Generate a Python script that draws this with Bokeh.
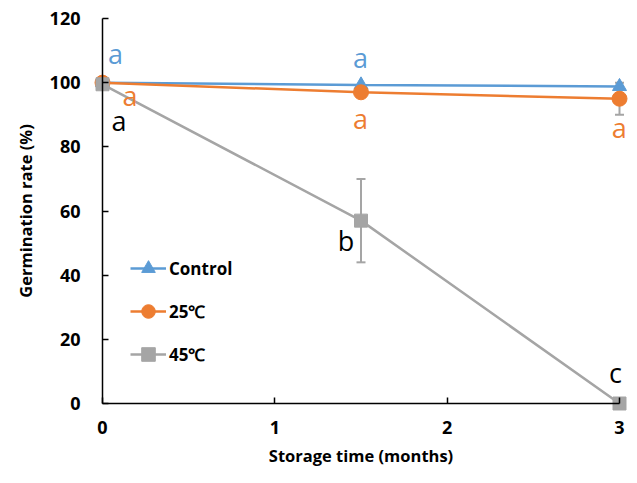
from bokeh.plotting import figure
from bokeh.models import ColumnDataSource, Range1d, FixedTicker, Legend, LegendItem, Whisker, TeeHead
from bokeh.core.properties import value
from bokeh.embed import file_html
from bokeh.resources import INLINE

# ---- data ----
months = [0, 1.5, 3]
control = [100, 99.3, 98.8]
t25 = [100, 97, 95]
t45 = [99.5, 57, 0]
control_err = [0, 0, 0]
t25_err = [0, 0, 5]
t45_err = [0, 13, 0]

# significance letters: x, y, text, colour
letters_x = [0.075, 1.497, 0.16, 0.096, 1.497, 2.998, 1.413, 2.977]
letters_y = [109.2, 108.0, 96.0, 88.2, 88.8, 86.0, 50.8, 9.6]
letters_t = ["a", "a", "a", "a", "a", "a", "b", "c"]
letters_c = ["#5B9BD5", "#5B9BD5", "#ED7D31", "#000000", "#ED7D31", "#ED7D31", "#000000", "#000000"]

x_ticks = [0, 1, 2, 3]
y_ticks = [0, 20, 40, 60, 80, 100, 120]

BLUE = "#5B9BD5"
ORANGE = "#ED7D31"
GRAY = "#A5A5A5"
FONT = "Open Sans"

W, H = 629, 467
PX_X = 517 / 3.0      # pixels per month
PX_Y = 385 / 120.0    # pixels per percent
X0, Y0 = 102, 403     # page position of origin

p = figure(width=W, height=H, output_backend="svg", toolbar_location=None,
           x_range=Range1d(-X0 / PX_X, (W - X0) / PX_X),
           y_range=Range1d(-(H - Y0) / PX_Y, Y0 / PX_Y),
           min_border_left=0, min_border_right=0, min_border_top=0, min_border_bottom=0)
p.outline_line_color = None
p.xgrid.visible = False
p.ygrid.visible = False

for ax in (p.xaxis[0], p.yaxis[0]):
    ax.fixed_location = 0
    ax.axis_line_color = "#000000"
    ax.axis_line_width = 1.5
    ax.major_tick_line_color = "#000000"
    ax.major_tick_line_width = 1.5
    ax.major_tick_in = 6
    ax.major_tick_out = 0
    ax.minor_tick_line_color = None
    ax.major_label_text_font = FONT
    ax.major_label_text_font_style = "bold"
    ax.major_label_text_font_size = "18px"
    ax.major_label_text_color = "#000000"
    ax.axis_label_text_font = FONT
    ax.axis_label_text_font_style = "bold"
    ax.axis_label_text_font_size = "16.5px"
    ax.axis_label_text_color = "#000000"

p.xaxis.bounds = (0, 3)
p.yaxis.bounds = (0, 120)
p.xaxis.ticker = FixedTicker(ticks=x_ticks)
p.yaxis.ticker = FixedTicker(ticks=y_ticks)
p.xaxis.axis_label = "Storage time (months)"
p.yaxis.axis_label = "Germination rate (%)"
p.xaxis.major_label_standoff = 17
p.xaxis.axis_label_standoff = 7
p.yaxis.major_label_standoff = 22
p.yaxis.axis_label_standoff = 10

# error bars (drawn under markers)
src_err = ColumnDataSource(dict(
    x=months * 3,
    lo=[v - e for v, e in zip(control, control_err)] + [v - e for v, e in zip(t25, t25_err)] + [v - e for v, e in zip(t45, t45_err)],
    hi=[v + e for v, e in zip(control, control_err)] + [v + e for v, e in zip(t25, t25_err)] + [v + e for v, e in zip(t45, t45_err)],
))
w = Whisker(base="x", lower="lo", upper="hi", source=src_err,
            line_color=GRAY, line_width=2,
            upper_head=TeeHead(size=9, line_color=GRAY, line_width=2),
            lower_head=TeeHead(size=9, line_color=GRAY, line_width=2))
p.add_layout(w)

l1 = p.line(months, control, line_color=BLUE, line_width=2.5)
m1 = p.scatter(months, control, marker="triangle", size=14, fill_color=BLUE, line_color=BLUE)
l2 = p.line(months, t25, line_color=ORANGE, line_width=2.5)
m2 = p.scatter(months, t25, marker="circle", size=15, fill_color=ORANGE, line_color=ORANGE)
l3 = p.line(months, t45, line_color=GRAY, line_width=2.5)
m3 = p.scatter(months, t45, marker="square", size=13, fill_color=GRAY, line_color=GRAY)

p.text(x=letters_x, y=letters_y, text=letters_t, text_color=letters_c,
       text_font=value(FONT), text_font_size="27px",
       text_align="center", text_baseline="alphabetic")

legend = Legend(items=[
    LegendItem(label="Control", renderers=[l1, m1]),
    LegendItem(label="25℃", renderers=[l2, m2]),
    LegendItem(label="45℃", renderers=[l3, m3]),
], location=(130, H - 371), padding=0, margin=0, spacing=9,
   glyph_width=36, glyph_height=34, label_height=34, label_standoff=3,
   border_line_color=None, background_fill_alpha=0,
   label_text_font=FONT, label_text_font_style="bold", label_text_font_size="17px",
   label_text_color="#000000")
p.add_layout(legend)

open("out.html", "w").write(file_html(p, INLINE))
